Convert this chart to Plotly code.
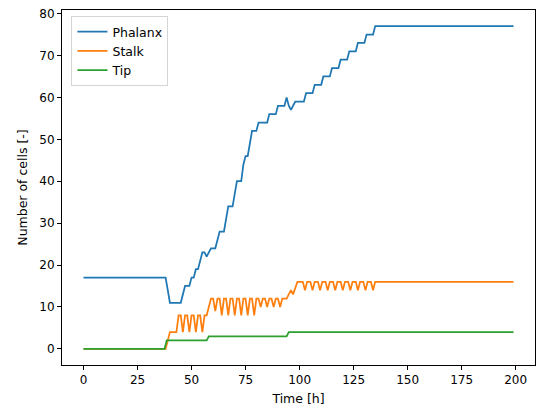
import plotly.graph_objects as go

# ---------------- data ----------------
PHALANX_T = [0, 38, 39, 40, 45, 46, 47, 49, 50, 51, 52, 53, 54, 55, 56, 57, 58, 59, 61, 62,
             63, 65, 66, 67, 69, 70, 71, 73, 74, 75, 76, 77, 78, 80, 81, 85, 86, 89, 90, 93,
             94, 95, 96, 97, 98, 102, 103, 106, 107, 110, 111, 114, 115, 118, 119, 122, 123,
             126, 127, 130, 131, 134, 135, 199]
PHALANX_V = [17, 17, 14, 11, 11, 13, 15, 15, 17, 17, 19, 19, 21, 23, 23, 22, 23, 24, 24, 26,
             28, 28, 31, 34, 34, 37, 40, 40, 44, 46, 46, 49, 52, 52, 54, 54, 56, 56, 58, 58,
             60, 58, 57, 58, 59, 59, 61, 61, 63, 63, 65, 65, 67, 67, 69, 69, 71, 71,
             73, 73, 75, 75, 77, 77]

STALK_T = [0, 38, 39, 40, 43,
           44, 45, 46, 47, 48, 49, 50, 51, 52, 53, 54, 55, 56, 57,
           58, 59, 60, 61,
           62, 63, 64, 65, 66, 67, 68, 69, 70, 71, 72, 73, 74, 75, 76, 77, 78, 79,
           80, 81, 82, 83, 84, 85, 86, 87, 88, 89, 90, 91, 92,
           94, 96, 97, 99,
           101.5, 102.5, 103.5, 105, 106, 107, 108.5, 109.5, 110.5, 112, 113, 114,
           115.5, 116.5, 117.5, 119, 120, 121, 122.5, 123.5, 124.5, 126, 127, 128,
           129.5, 130.5, 131.5, 133, 134, 135, 199]
STALK_V = [0, 0, 2, 4, 4,
           8, 8, 4, 8, 8, 4, 8, 8, 4, 8, 8, 4, 8, 8,
           10, 12, 12, 9,
           12, 12, 8, 12, 12, 8, 12, 12, 8, 12, 12, 8, 12, 12, 8, 12, 12, 8,
           12, 12, 10, 12, 12, 10, 12, 12, 10, 12, 12, 10, 12,
           12, 14, 13, 16,
           16, 14, 16, 16, 14, 16, 16, 14, 16, 16, 14, 16,
           16, 14, 16, 16, 14, 16, 16, 14, 16, 16, 14, 16,
           16, 14, 16, 16, 14, 16, 16]

TIP_T = [0, 37.5, 38.5, 57, 58, 94, 95, 199]
TIP_V = [0, 0, 2, 2, 3, 3, 4, 4]

SERIES = ["Phalanx", "Stalk", "Tip"]
COLORS = ["#1f77b4", "#ff7f0e", "#2ca02c"]

X_TICKS = [0, 25, 50, 75, 100, 125, 150, 175, 200]
Y_TICKS = [0, 10, 20, 30, 40, 50, 60, 70, 80]

assert len(PHALANX_T) == len(PHALANX_V)
assert len(STALK_T) == len(STALK_V)
assert len(TIP_T) == len(TIP_V)

FONT = "DejaVu Sans"

fig = go.Figure()
for name, xs, ys, col in zip(SERIES,
                             [PHALANX_T, STALK_T, TIP_T],
                             [PHALANX_V, STALK_V, TIP_V],
                             COLORS):
    fig.add_trace(go.Scatter(x=xs, y=ys, mode="lines", name=name,
                             line=dict(color=col, width=1.75)))

axis_common = dict(showline=True, mirror=True, linecolor="black", linewidth=1,
                   ticks="outside", ticklen=4, tickwidth=1, tickcolor="black",
                   showgrid=False, zeroline=False,
                   tickfont=dict(family=FONT, size=12, color="black"))

fig.update_layout(
    width=537, height=411,
    margin=dict(l=62, r=2, t=10, b=46),
    paper_bgcolor="white", plot_bgcolor="white",
    font=dict(family=FONT, size=12, color="black"),
    xaxis=dict(range=[-9.95, 208.95], tickvals=X_TICKS,
               title=dict(text="Time [h]", font=dict(family=FONT, size=12.5), standoff=7),
               **axis_common),
    yaxis=dict(range=[-3.85, 80.85], tickvals=Y_TICKS,
               title=dict(text="Number of cells [-]", font=dict(family=FONT, size=12.5), standoff=8),
               **axis_common),
    legend=dict(x=0.02, y=0.983, xanchor="left", yanchor="top",
                bgcolor="rgba(255,255,255,0.8)", bordercolor="#d5d5d5", borderwidth=1,
                font=dict(family=FONT, size=12.5), tracegroupgap=2),
    showlegend=True,
)

fig.write_html("out.html")
